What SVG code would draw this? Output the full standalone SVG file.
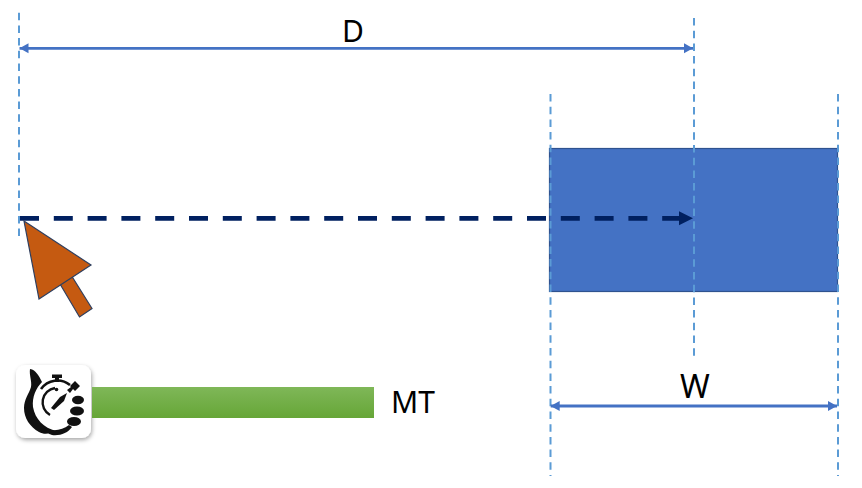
<svg xmlns="http://www.w3.org/2000/svg" width="862" height="488" viewBox="0 0 862 488">
<style>
.guide{fill:none;stroke:#5b9bd5;stroke-width:2;stroke-dasharray:7.500 5.200}
.dim{fill:none;stroke:#4472c4;stroke-width:2.800;marker-start:url(#dimStart);marker-end:url(#dimEnd)}
.lbl{font-family:"Noto Sans","Open Sans",sans-serif;font-size:30px;fill:#000;text-anchor:middle}
.dark{fill:#111}
.ring{fill:none;stroke:#111}
</style>
<defs>
<marker id="dimEnd" markerUnits="userSpaceOnUse" markerWidth="10" markerHeight="11" refX="9" refY="5.500" orient="auto"><path d="M0 0.500L9 5.500L0 10.500Z" fill="#4472c4"/></marker>
<marker id="dimStart" markerUnits="userSpaceOnUse" markerWidth="10" markerHeight="11" refX="0" refY="5.500" orient="auto"><path d="M9 0.500L0 5.500L9 10.500Z" fill="#4472c4"/></marker>
<marker id="flow" markerUnits="userSpaceOnUse" markerWidth="16" markerHeight="16" refX="0" refY="8" orient="auto"><path d="M0 1L14 8L0 15Z" fill="#002060"/></marker>
<linearGradient id="bar" x1="0" y1="0" x2="0" y2="1"><stop offset="0" stop-color="#7fb758"/><stop offset="1" stop-color="#66a637"/></linearGradient>
<filter id="sh" x="-20%" y="-20%" width="140%" height="140%"><feDropShadow dx="1" dy="2" stdDeviation="2" flood-color="#000" flood-opacity=".35"/></filter>
</defs>
<g id="target"><rect x="549.500" y="148.500" width="288" height="143" fill="#4472c4" stroke="#2f528f" stroke-width="1.200"/></g>
<g id="connectors">
<path class="guide" d="M19 12.700V236"/>
<path class="guide" d="M694 18V356"/>
<path class="guide" d="M550.500 94V476"/>
<path class="guide" d="M838 94V476"/>
<path class="dim" d="M19.500 48.300H693"/>
<path class="dim" d="M550.700 406H837"/>
<path d="M20 218.300H679" fill="none" stroke="#002060" stroke-width="4.800" stroke-dasharray="19 14.800" marker-end="url(#flow)"/>
</g>
<g id="cursor">
<path d="M60 284L72 276.500L92 308.500L79.500 317Z" fill="#c55a11" stroke="#2f3f5f" stroke-width="1.200"/>
<path d="M24 221L91 265L39 299Z" fill="#c55a11" stroke="#2f3f5f" stroke-width="1.200"/></g>
<g id="timer">
<rect x="16" y="365" width="75" height="73" rx="9" fill="#fff" filter="url(#sh)"/>
<path class="dark" d="M30 369C36 370 39 376 42 382C36 388 32 397 33 407C35 419 44 428 56 431C50 434 44 435 39 432C30 427 24 418 24 408C24 399 29 394 31 387C32 381 29 375 30 369Z"/>
<path class="ring" stroke-width="2.600" d="M41 389A20 20 0 0 1 70 385"/>
<path class="ring" stroke-width="2.400" d="M55 388A14.500 14.500 0 0 0 50 415"/>
<path class="dark" d="M52 374.500H62V378H59V382H55V378H52Z"/>
<path class="dark" d="M75 381L80 386L75 391L73 389L70 393L67 390L71 387L70 386Z"/>
<path class="dark" d="M51 408L60 397L67 393L64 401L54 410Z"/>
<circle cx="56.500" cy="389.500" r="1.800" class="dark"/>
<ellipse cx="78" cy="400" rx="6" ry="4.200" class="dark"/><ellipse cx="77" cy="411" rx="7" ry="4.500" class="dark"/><ellipse cx="74" cy="421.500" rx="7" ry="4.500" class="dark"/>
<path class="dark" d="M44 428C54 432 62 430 69 425L72 427C68 433 60 436 52 435C48 434 46 431 44 428Z"/>
</g>
<g id="bar-node"><rect x="92" y="387" width="282" height="31" fill="url(#bar)"/></g>
<g id="labels">
<text class="lbl" x="353" y="41.500">D</text>
<text class="lbl" x="695" y="398" style="font-size:32px">W</text>
<text class="lbl" x="413" y="413">MT</text>
</g>
</svg>
